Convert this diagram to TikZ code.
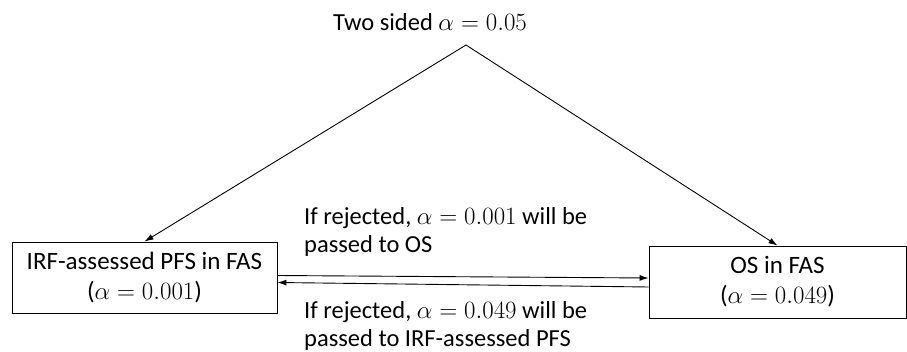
\documentclass[tikz,border=0pt]{standalone}
\usepackage{fontspec}
\setmainfont{Carlito}
\usepackage{tikz}
\usetikzlibrary{arrows.meta,positioning}
\tikzset{
  block/.style={draw,align=center,font=\fontsize{25}{30}\selectfont,
    inner sep=4pt,line width=0.9pt},
  note/.style={align=left,font=\fontsize{24.5}{28}\selectfont,inner sep=2pt},
  flow/.style={-{Latex[length=9pt,width=6pt]},line width=0.9pt}
}
\begin{document}
\begin{tikzpicture}[x=1pt,y=-1pt]
  \useasboundingbox (0,0) rectangle (907,352);
  % Top split
  \node[note] (title) at (430,22) {Two sided $\alpha = 0.05$};
  \coordinate (apex) at (466,45);
  % Endpoints
  \node[block,minimum width=265pt,minimum height=71pt] (pfs) at (144.5,277.5)
    {IRF-assessed PFS in FAS\\($\alpha = 0.001$)};
  \node[block,minimum width=257pt,minimum height=72pt] (os) at (777.5,282)
    {OS in FAS\\($\alpha = 0.049$)};
  % Split arrows
  \draw[flow] (apex) -- (pfs.north);
  \draw[flow] (apex) -- (os.north);
  % Passing alpha
  \draw[flow] ([yshift=2pt]pfs.east) -- ([yshift=4pt]os.west);
  \draw[flow] ([yshift=-5pt]os.west) -- ([yshift=-5pt]pfs.east);
  \node[note,anchor=west] (upmsg) at (302,231.5)
    {If rejected, $\alpha = 0.001$ will be\\passed to OS};
  \node[note,anchor=west] (downmsg) at (302,326)
    {If rejected, $\alpha = 0.049$ will be\\passed to IRF-assessed PFS};
\end{tikzpicture}
\end{document}
